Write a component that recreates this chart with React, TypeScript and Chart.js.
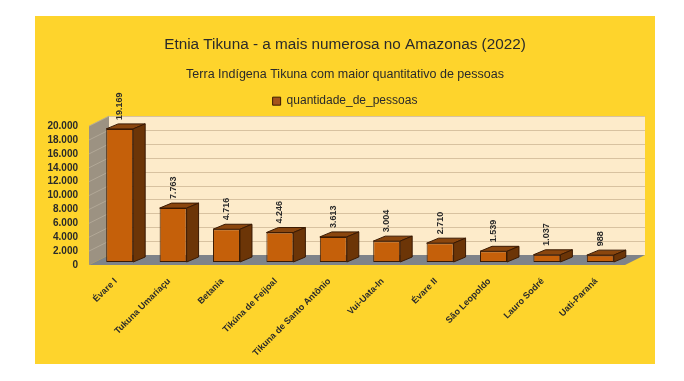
import React, { useEffect, useRef } from "react";
import { Chart, registerables } from "chart.js";

Chart.register(...registerables);

// ---------- data ----------
const categories = [
  "Évare I",
  "Tukuna Umariaçu",
  "Betania",
  "Tikúna de Feijoal",
  "Tikuna de Santo Antônio",
  "Vui-Uata-In",
  "Évare II",
  "São Leopoldo",
  "Lauro Sodré",
  "Uati-Paraná",
];
const populations = [19169, 7763, 4716, 4246, 3613, 3004, 2710, 1539, 1037, 988];
const yTickValues = [0, 2000, 4000, 6000, 8000, 10000, 12000, 14000, 16000, 18000, 20000];
const yTickMax = 20000;
const yAxisMax = 20860;

const TITLE = "Etnia Tikuna - a mais numerosa no Amazonas (2022)";
const SUBTITLE = "Terra Indígena Tikuna com maior quantitativo de pessoas";
const SERIES = "quantidade_de_pessoas";

// ---------- style ----------
const FONT = "'Liberation Sans', Arial, sans-serif";
const C = {
  yellow: "#FED42C",
  wall: "#FDEBCA",
  grid: "#D8C2A0",
  side: "#9C9282",
  sideGrid: "#B2A897",
  floor: "#7F8389",
  front: "#C5600A",
  top: "#8A460E",
  right: "#6C3507",
  edge: "#3A1A03",
  legend: "#A4531B",
  text: "#2A2A2A",
};

const WALL_DX = 20;
const WALL_DY = -10;
const FRONT_OFF_Y = 3;
const FRONT_LEFT = -4;
const FRONT_RIGHT = -2;
const BAR_DX = 12;
const BAR_DY = -5;

const fmt = (v: number) => String(Math.round(v)).replace(/\B(?=(\d{3})+(?!\d))/g, ".");

function poly(ctx: CanvasRenderingContext2D, pts: number[][], fill: string, stroke?: string) {
  ctx.beginPath();
  ctx.moveTo(pts[0][0], pts[0][1]);
  for (let i = 1; i < pts.length; i++) ctx.lineTo(pts[i][0], pts[i][1]);
  ctx.closePath();
  ctx.fillStyle = fill;
  ctx.fill();
  if (stroke) {
    ctx.strokeStyle = stroke;
    ctx.lineWidth = 1;
    ctx.stroke();
  }
}

const scene3d = {
  id: "scene3d",
  beforeDatasetsDraw(chart: any) {
    const { ctx, chartArea: a } = chart;
    const y = chart.scales.y;
    const fy = (v: number) => y.getPixelForValue(v) + FRONT_OFF_Y;
    const fl = a.left + FRONT_LEFT;
    const fr = a.right + FRONT_RIGHT;
    const b0 = fy(0);
    const bT = fy(yTickMax);
    ctx.save();
    // back wall
    ctx.fillStyle = C.wall;
    ctx.fillRect(fl + WALL_DX, bT + WALL_DY, fr - fl, b0 - bT);
    // back wall grid lines
    ctx.strokeStyle = C.grid;
    ctx.lineWidth = 1;
    yTickValues.forEach((v) => {
      if (v === 0) return;
      const yy = Math.round(fy(v) + WALL_DY) + 0.5;
      ctx.beginPath();
      ctx.moveTo(fl + WALL_DX, yy);
      ctx.lineTo(fr + WALL_DX, yy);
      ctx.stroke();
    });
    // side wall
    poly(ctx, [[fl, b0], [fl, bT], [fl + WALL_DX, bT + WALL_DY], [fl + WALL_DX, b0 + WALL_DY]], C.side);
    ctx.strokeStyle = C.sideGrid;
    yTickValues.forEach((v) => {
      if (v === 0) return;
      ctx.beginPath();
      ctx.moveTo(fl, fy(v));
      ctx.lineTo(fl + WALL_DX, fy(v) + WALL_DY);
      ctx.stroke();
    });
    // floor
    poly(ctx, [[fl, b0], [fr, b0], [fr + WALL_DX, b0 + WALL_DY], [fl + WALL_DX, b0 + WALL_DY]], C.floor);
    ctx.restore();
  },
  afterDatasetsDraw(chart: any) {
    const { ctx } = chart;
    const meta = chart.getDatasetMeta(0);
    ctx.save();
    meta.data.forEach((bar: any, i: number) => {
      const { x, y, base, width } = bar.getProps(["x", "y", "base", "width"], true);
      const l = x - width / 2;
      const r = x + width / 2;
      // top face
      poly(ctx, [[l, y], [l + BAR_DX, y + BAR_DY], [r + BAR_DX, y + BAR_DY], [r, y]], C.top, C.edge);
      // side face
      poly(ctx, [[r, y], [r + BAR_DX, y + BAR_DY], [r + BAR_DX, base + BAR_DY], [r, base]], C.right, C.edge);
      // value label
      ctx.save();
      ctx.translate(x, y - 9);
      ctx.rotate(-Math.PI / 2);
      ctx.font = `bold 9px ${FONT}`;
      ctx.fillStyle = C.text;
      ctx.textAlign = "left";
      ctx.textBaseline = "middle";
      ctx.fillText(fmt(populations[i]), 0, 0);
      ctx.restore();
    });
    ctx.restore();
  },
};

export default function App() {
  const ref = useRef<HTMLCanvasElement | null>(null);
  useEffect(() => {
    if (!ref.current) return;
    const chart = new Chart(ref.current, {
      type: "bar",
      data: {
        labels: categories,
        datasets: [
          {
            label: SERIES,
            data: populations,
            backgroundColor: C.front,
            borderColor: C.edge,
            borderWidth: 1,
            borderSkipped: false,
            barPercentage: 0.505,
            categoryPercentage: 1,
            yAxisID: "y",
          },
        ],
      },
      options: {
        responsive: false,
        animation: false,
        events: [],
        layout: { padding: 0 },
        plugins: {
          title: {
            display: true,
            text: TITLE,
            color: C.text,
            font: { family: FONT, size: 15.3, weight: "normal" },
            padding: { top: 20, bottom: 0 },
          },
          subtitle: {
            display: true,
            text: SUBTITLE,
            color: C.text,
            font: { family: FONT, size: 12.5, weight: "normal" },
            padding: { top: 12.3, bottom: 0 },
          },
          legend: {
            display: true,
            position: "top",
            labels: {
              boxWidth: 8,
              boxHeight: 8,
              padding: 13.5,
              color: C.text,
              font: { family: FONT, size: 12 },
              generateLabels: () => [
                {
                  text: SERIES,
                  fillStyle: C.legend,
                  strokeStyle: C.edge,
                  lineWidth: 1,
                  hidden: false,
                  datasetIndex: 0,
                  fontColor: C.text,
                },
              ],
            },
          },
          tooltip: { enabled: false },
        },
        scales: {
          x: {
            border: { display: false },
            grid: { display: false, drawTicks: false },
            ticks: {
              autoSkip: false,
              maxRotation: 45,
              minRotation: 45,
              padding: 14,
              labelOffset: -4,
              color: C.text,
              font: { family: FONT, size: 9, weight: "bold" },
            },
            afterFit: (s: any) => {
              s.height = 102;
            },
          },
          y: {
            position: "left",
            min: 0,
            max: yAxisMax,
            border: { display: false },
            grid: { display: false, drawTicks: false },
            afterBuildTicks: (s: any) => {
              s.ticks = yTickValues.map((v) => ({ value: v }));
            },
            ticks: {
              autoSkip: false,
              labelOffset: 3,
              padding: 15,
              color: C.text,
              font: { family: FONT, size: 10, weight: "bold" },
              callback: (v: any) => fmt(Number(v)),
            },
            afterFit: (s: any) => {
              s.width = 58;
            },
          },
          yRight: {
            position: "right",
            display: true,
            min: 0,
            max: yAxisMax,
            border: { display: false },
            grid: { display: false, drawTicks: false },
            ticks: { display: false },
            afterFit: (s: any) => {
              s.width = 28;
            },
          },
        },
      },
      plugins: [scene3d],
    } as any);
    return () => chart.destroy();
  }, []);

  return (
    <div
      style={{
        position: "absolute",
        left: 35,
        top: 16,
        width: 620,
        height: 348,
        background: C.yellow,
      }}
    >
      <canvas ref={ref} width={620} height={348} style={{ display: "block" }} />
    </div>
  );
}
